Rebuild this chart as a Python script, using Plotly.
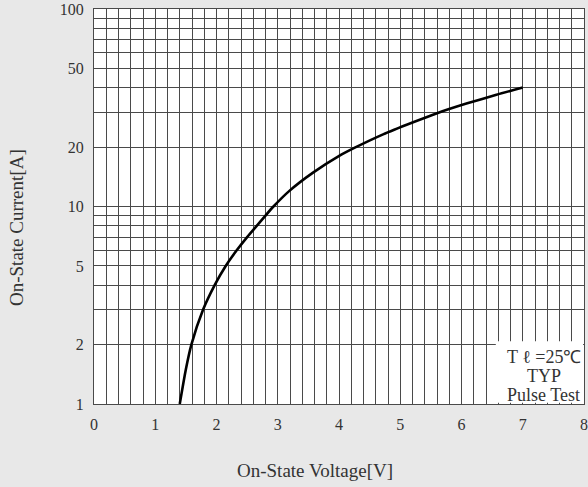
import numpy as np
import plotly.graph_objects as go

# Curve (On-State Voltage [V] vs On-State Current [A])
voltage = [1.40, 1.50, 1.59, 1.78, 1.97, 2.15, 2.33, 2.50, 2.66, 2.80, 2.93, 3.19, 3.57, 4.01, 4.25, 4.72, 5.21, 5.59, 6.08, 6.57, 7.00]
current = [1.00, 1.50, 2.00, 3.00, 4.00, 5.00, 6.00, 7.00, 8.00, 9.00, 10.0, 12.0, 14.8, 18.1, 19.8, 23.2, 26.7, 29.6, 33.2, 36.8, 40.0]

# Grid / tick definitions
x_grid = [round(i * 0.2, 1) for i in range(41)]
x_labels = {0: "0", 1: "1", 2: "2", 3: "3", 4: "4", 5: "5", 6: "6", 7: "7", 8: "8"}
y_grid = [m * d for d in (1, 10) for m in range(1, 10)] + [100]
y_labels = {1: "1", 2: "2", 5: "5", 10: "10", 20: "20", 50: "50", 100: "100"}

x_text = [x_labels.get(int(round(v)), "") if abs(v - round(v)) < 1e-9 else "" for v in x_grid]
y_text = [y_labels.get(v, "") for v in y_grid]

note_lines = ["T ℓ =25℃", "TYP", "Pulse Test"]

FONT = "Liberation Serif"
GRID = "#4a4a4a"
TXT = "#333333"

fig = go.Figure()
fig.add_trace(go.Scatter(
    x=voltage, y=current, mode="lines",
    line=dict(color="black", width=2.6, shape="spline", smoothing=0.6),
    showlegend=False, hoverinfo="skip",
))

fig.update_layout(
    width=588, height=487,
    margin=dict(l=94, r=4, t=9, b=83, autoexpand=False),
    paper_bgcolor="#e8e8e8",
    plot_bgcolor="white",
    font=dict(family=FONT, size=16, color=TXT),
    xaxis=dict(
        range=[0, 8], tickmode="array", tickvals=x_grid, ticktext=x_text,
        showgrid=True, gridcolor=GRID, gridwidth=1, automargin=False,
        showline=True, linecolor=GRID, linewidth=1, mirror=True,
        ticks="", zeroline=False, ticklabelstandoff=6,
        tickfont=dict(family=FONT, size=16, color=TXT),
    ),
    yaxis=dict(
        type="log", range=[0, 2], tickmode="array", tickvals=y_grid, ticktext=y_text,
        showgrid=True, gridcolor=GRID, gridwidth=1, automargin=False,
        showline=True, linecolor=GRID, linewidth=1, mirror=True,
        ticks="", zeroline=False, ticklabelstandoff=6,
        tickfont=dict(family=FONT, size=16, color=TXT),
    ),
)

# white box behind the note
fig.add_shape(type="rect", xref="x", yref="paper",
              x0=6.56, x1=7.985, y0=0.003, y1=0.159,
              fillcolor="white", line=dict(width=0), layer="above")

# note lines (separate annotations for tight line spacing)
for line, ypx in zip(note_lines, [357, 376, 395]):
    fig.add_annotation(
        xref="paper", yref="paper", x=(543.5 - 94) / 490, y=(404 - ypx) / 395,
        text=line, showarrow=False, xanchor="center", yanchor="middle",
        font=dict(family=FONT, size=18, color=TXT),
    )

# axis titles
fig.add_annotation(
    xref="paper", yref="paper", x=(314.5 - 94) / 490, y=-(470 - 404) / 395,
    text="On-State Voltage[V]", showarrow=False, xanchor="center", yanchor="middle",
    font=dict(family=FONT, size=19, color=TXT),
)
fig.add_annotation(
    xref="paper", yref="paper", x=-(94 - 16) / 490, y=(404 - 228) / 395,
    text="On-State Current[A]", showarrow=False, xanchor="center", yanchor="middle",
    textangle=-90, font=dict(family=FONT, size=19, color=TXT),
)

fig.write_html(
    "out.html",
    config={"displayModeBar": False},
    post_script="document.body.style.margin='0';document.body.style.overflow='hidden';",
)
